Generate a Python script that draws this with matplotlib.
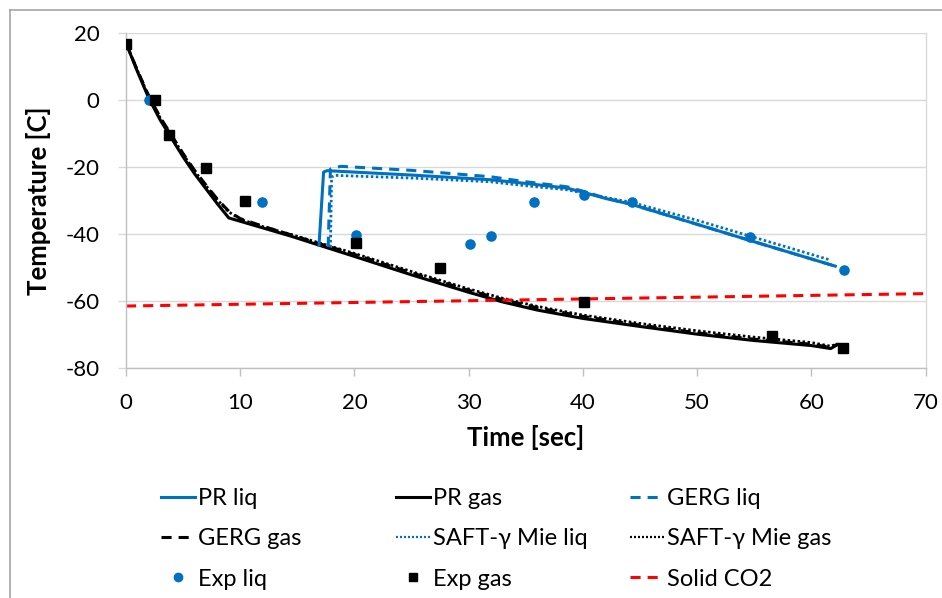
import matplotlib
matplotlib.use("Agg")
import matplotlib.pyplot as plt
from matplotlib.lines import Line2D

plt.rcParams['font.family'] = ['Lato', 'DejaVu Sans']

# ---------------- data ----------------
pr_gas_t = [0, 1, 2, 3, 4, 5, 6, 7, 8, 9, 12, 14.4, 20, 25, 30, 33, 36, 40, 45, 50, 55, 60, 61.7, 62.3]
pr_gas_T = [17, 8.5, 0.5, -6, -11.5, -17, -22, -26.5, -31, -35.2, -38.2, -40.6, -46.7, -52.2, -57.4,
            -60.3, -62.7, -65.2, -67.6, -69.9, -71.8, -73.3, -74.2, -73.0]

gerg_gas_t = [0, 1, 2, 3, 4, 5, 6, 7, 8, 9, 10, 12, 14.4, 20, 25, 30, 33, 36, 40, 45, 50, 55, 60, 61.7, 62.3]
gerg_gas_T = [17, 8.8, 1.2, -5.2, -10.6, -16.0, -21.0, -25.4, -29.6, -33.2, -35.4, -37.7, -40.2, -46.1,
              -51.6, -56.8, -59.6, -62.0, -64.6, -67.2, -69.5, -71.4, -72.9, -73.8, -72.9]

saft_gas_t = [0, 1, 2, 3, 4, 5, 6, 7, 8, 9, 10, 12, 14.4, 20, 25, 30, 33, 36, 40, 45, 50, 55, 60, 61.7, 62.3]
saft_gas_T = [17, 8.8, 1.0, -5.4, -10.8, -16.2, -21.2, -25.6, -29.8, -33.4, -35.6, -37.8, -40.1, -45.8,
              -51.2, -56.4, -59.2, -61.6, -64.2, -66.7, -68.9, -70.8, -72.4, -73.5, -72.8]

pr_liq_t = [16.9, 17.3, 17.6, 25, 31.9, 35, 38.6, 40.1, 42, 44.3, 50, 54.6, 62.1]
pr_liq_T = [-43.3, -21.5, -21.1, -22.4, -23.8, -24.9, -26.3, -27.6, -29.4, -31.2, -37.1, -41.9, -49.6]

gerg_liq_t = [17.7, 17.9, 18.8, 25, 31.9, 35, 38.6, 40.1, 42, 44.3, 50, 54.6, 62.1]
gerg_liq_T = [-43.8, -20.6, -19.8, -21.0, -22.9, -24.4, -25.9, -27.3, -29.3, -31.2, -37.1, -41.9, -49.6]

saft_liq_t = [17.9, 18.0, 18.3, 25, 31.9, 35, 38.6, 40.1, 42, 44.3, 50, 54.6, 61.7]
saft_liq_T = [-44.0, -23.0, -22.5, -23.3, -24.4, -25.6, -26.8, -27.8, -29.1, -30.6, -35.9, -40.6, -47.8]

exp_liq_t = [2.0, 11.9, 20.1, 30.1, 32.0, 35.7, 40.1, 44.3, 54.6, 62.9]
exp_liq_T = [0.0, -30.3, -40.3, -43.0, -40.5, -30.3, -28.3, -30.4, -40.8, -50.6]

exp_gas_t = [0.0, 2.5, 3.8, 7.0, 10.4, 20.1, 27.5, 40.1, 56.6, 62.8]
exp_gas_T = [16.6, 0.0, -10.5, -20.3, -30.0, -42.6, -50.1, -60.2, -70.4, -74.0]

solid_t = [0, 70]
solid_T = [-61.5, -57.8]

x_ticks = [0, 10, 20, 30, 40, 50, 60, 70]
y_ticks = [-80, -60, -40, -20, 0, 20]

# ---------------- style ----------------
BLUE = '#0070C0'
BLACK = '#000000'
RED = '#FF0000'
GRID = '#D9D9D9'
AXIS = '#BFBFBF'
LW = 2.2
DASH = (3.3, 2.3)
DOT = (0.9, 0.9)

fig = plt.figure(figsize=(9.42, 5.98), dpi=100)
W, H = 942, 598
ax = fig.add_axes([126 / W, 1 - 368 / H, (925.5 - 126) / W, (368 - 33) / H])

# gas curves
ax.plot(pr_gas_t, pr_gas_T, color=BLACK, lw=LW, solid_joinstyle='round')
ax.plot(gerg_gas_t, gerg_gas_T, color=BLACK, lw=LW, dashes=DASH)
ax.plot(saft_gas_t, saft_gas_T, color=BLACK, lw=2.0, dashes=DOT)
# liquid curves
ax.plot(pr_liq_t, pr_liq_T, color=BLUE, lw=LW, solid_joinstyle='round')
ax.plot(gerg_liq_t, gerg_liq_T, color=BLUE, lw=LW, dashes=DASH)
ax.plot(saft_liq_t, saft_liq_T, color=BLUE, lw=2.0, dashes=DOT)
# solid CO2
ax.plot(solid_t, solid_T, color=RED, lw=LW, dashes=DASH)
# experiments
ax.plot(exp_liq_t, exp_liq_T, ls='none', marker='o', ms=6.6, color=BLUE, zorder=5)
ax.plot(exp_gas_t, exp_gas_T, ls='none', marker='s', ms=7.2, color=BLACK, zorder=6)

ax.set_xlim(0, 70)
ax.set_ylim(-80, 20)
ax.set_xticks(x_ticks)
ax.set_yticks(y_ticks)
ax.set_xticklabels([str(v) for v in x_ticks])
ax.set_yticklabels([str(v) for v in y_ticks])

ax.grid(axis='y', color=GRID, lw=1.0)
ax.set_axisbelow(True)
ax.spines['top'].set_visible(False)
ax.spines['right'].set_color(GRID)
ax.spines['right'].set_linewidth(1.0)
ax.spines['left'].set_color(AXIS)
ax.spines['bottom'].set_color(AXIS)
ax.spines['left'].set_linewidth(1.0)
ax.spines['bottom'].set_linewidth(1.0)
ax.tick_params(axis='y', length=6, width=1.0, color=GRID, pad=13, labelsize=16)
ax.tick_params(axis='x', length=6, width=1.0, color=AXIS, pad=12, labelsize=16)

ax.set_xlabel('Time [sec]', fontsize=18.5, fontweight='bold', va='center')
ax.xaxis.set_label_coords(0.5, (368 - 437) / 335)
ax.set_ylabel('Temperature [C]', fontsize=18.5, fontweight='bold', va='center')
ax.yaxis.set_label_coords((39 - 126) / (925.5 - 126), 0.5)

# ---------------- legend ----------------
h_pr_liq = Line2D([], [], color=BLUE, lw=LW)
h_pr_gas = Line2D([], [], color=BLACK, lw=LW)
h_gerg_liq = Line2D([], [], color=BLUE, lw=LW, dashes=DASH)
h_gerg_gas = Line2D([], [], color=BLACK, lw=LW, dashes=DASH)
h_saft_liq = Line2D([], [], color=BLUE, lw=1.6, dashes=DOT)
h_saft_gas = Line2D([], [], color=BLACK, lw=1.6, dashes=DOT)
h_exp_liq = Line2D([], [], ls='none', marker='o', ms=6, color=BLUE)
h_exp_gas = Line2D([], [], ls='none', marker='s', ms=6, color=BLACK)
h_solid = Line2D([], [], color=RED, lw=LW, dashes=DASH)

columns = [
    ([h_pr_liq, h_gerg_gas, h_exp_liq], ['PR liq', 'GERG gas', 'Exp liq'], 161),
    ([h_pr_gas, h_saft_liq, h_exp_gas], ['PR gas', 'SAFT-γ Mie liq', 'Exp gas'], 396),
    ([h_gerg_liq, h_saft_gas, h_solid], ['GERG liq', 'SAFT-γ Mie gas', 'Solid CO2'], 630),
]
for handles, labels, xpx in columns:
    fig.legend(handles=handles, labels=labels, loc='upper left',
               bbox_to_anchor=(xpx / W, 1 - 488 / H), frameon=False,
               fontsize=17, handlelength=1.45, handletextpad=0.13,
               labelspacing=0.82, borderpad=0, borderaxespad=0)

# chart border (top and left edges)
fig.add_artist(Line2D([10 / W, 1], [1 - 10 / H, 1 - 10 / H], color='#A6A6A6', lw=1.2,
                      transform=fig.transFigure))
fig.add_artist(Line2D([10 / W, 10 / W], [0, 1 - 10 / H], color='#A6A6A6', lw=1.2,
                      transform=fig.transFigure))

fig.savefig('out.png', dpi=100)
